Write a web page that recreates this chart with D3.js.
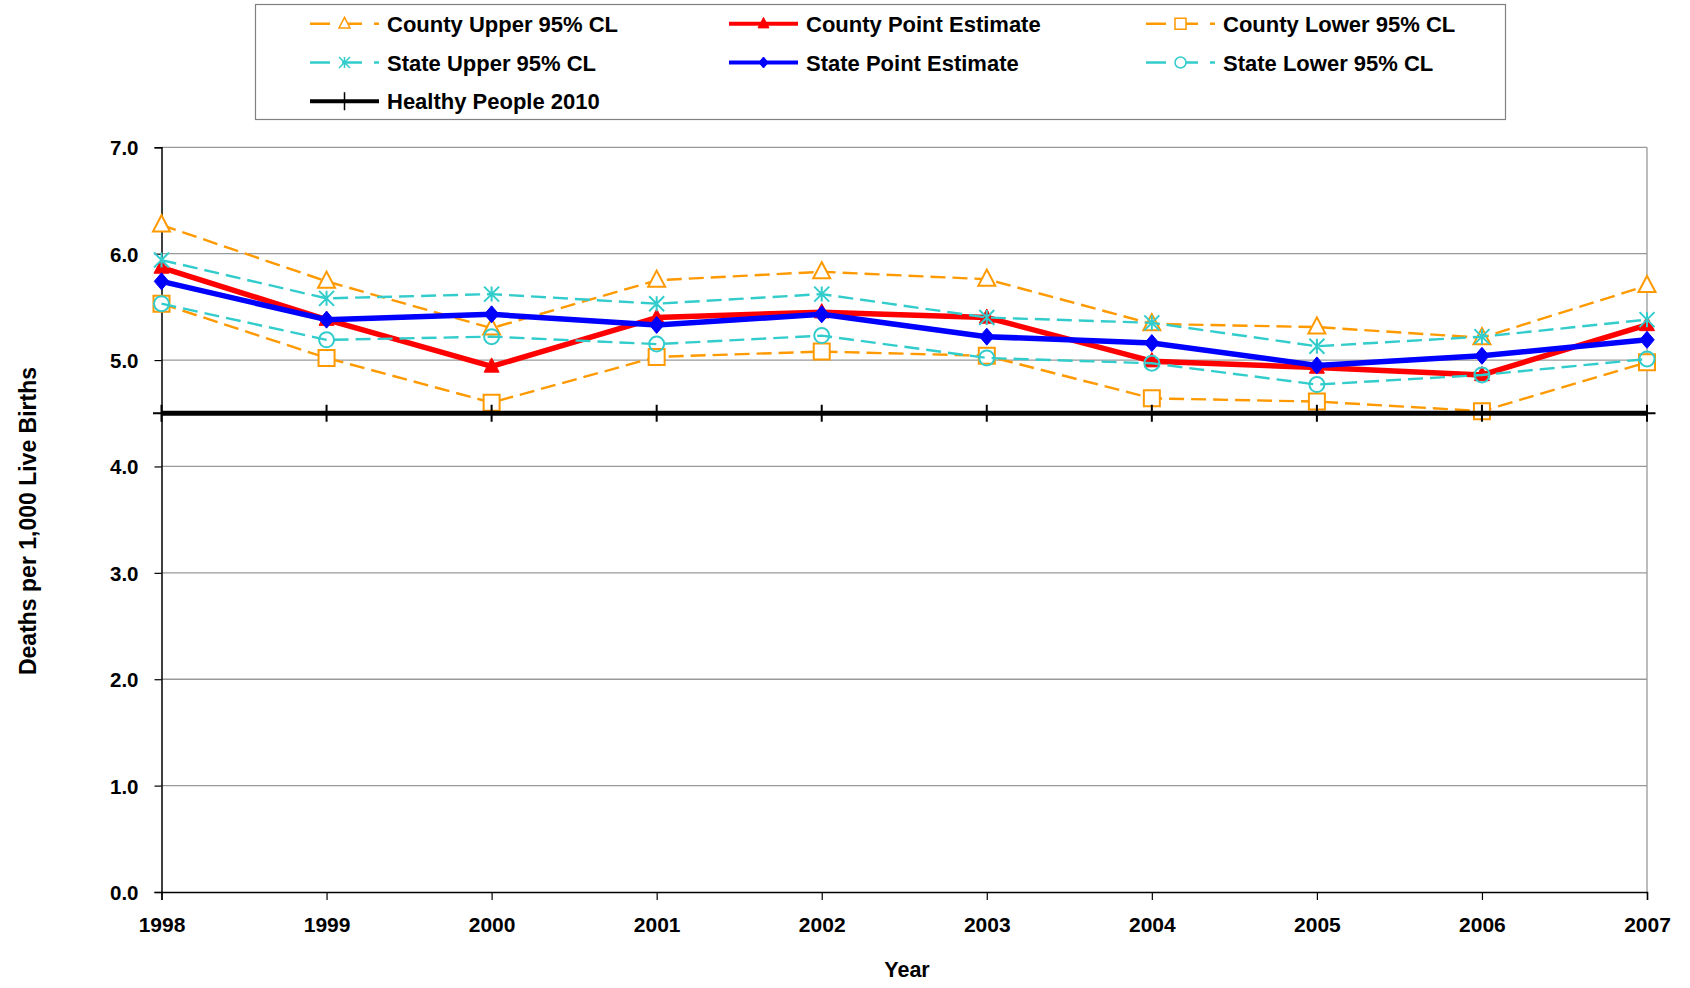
<!DOCTYPE html>
<html><head><meta charset="utf-8">
<script src="https://cdn.jsdelivr.net/npm/d3@7"></script>
<style>
html,body{margin:0;padding:0;background:#fff;}
svg{display:block;}
text{font-family:"Liberation Sans",Arial,sans-serif;font-weight:bold;fill:#000;}
</style></head>
<body>
<svg id="chart" width="1690" height="988"></svg>
<script>
const years = [1998,1999,2000,2001,2002,2003,2004,2005,2006,2007];
const countyUpper = [6.27,5.74,5.30,5.75,5.83,5.76,5.34,5.31,5.21,5.70];
const countyPoint = [5.87,5.38,4.94,5.40,5.45,5.40,4.99,4.93,4.86,5.33];
const countyLower = [5.53,5.02,4.60,5.03,5.08,5.04,4.64,4.61,4.52,4.98];
const stateUpper  = [5.94,5.58,5.62,5.53,5.62,5.40,5.35,5.13,5.22,5.38];
const statePoint  = [5.74,5.38,5.43,5.33,5.43,5.22,5.16,4.95,5.04,5.19];
const stateLower  = [5.53,5.19,5.22,5.15,5.23,5.02,4.97,4.77,4.86,5.01];
const healthyPeople = [4.5,4.5,4.5,4.5,4.5,4.5,4.5,4.5,4.5,4.5];
const yTicks = [0,1,2,3,4,5,6,7];
const yTickLabels = ["0.0","1.0","2.0","3.0","4.0","5.0","6.0","7.0"];
const seriesNames = ["County Upper 95% CL","County Point Estimate","County Lower 95% CL",
  "State Upper 95% CL","State Point Estimate","State Lower 95% CL","Healthy People 2010"];

const orange="#FF9900", red="#FF0000", blue="#0000FF", cyan="#33CCCC", black="#000000";

const series = [
  {name:seriesNames[0], values:countyUpper, color:orange, width:2.4, dash:"15,7", marker:"triangle", fill:"#fff"},
  {name:seriesNames[1], values:countyPoint, color:red, width:5.5, dash:null, marker:"triangle", fill:red},
  {name:seriesNames[2], values:countyLower, color:orange, width:2.4, dash:"15,7", marker:"square", fill:"#fff"},
  {name:seriesNames[3], values:stateUpper, color:cyan, width:2.4, dash:"15,7", marker:"star", fill:"none"},
  {name:seriesNames[4], values:statePoint, color:blue, width:5.5, dash:null, marker:"diamond", fill:blue},
  {name:seriesNames[5], values:stateLower, color:cyan, width:2.4, dash:"15,7", marker:"circle", fill:"none"},
  {name:seriesNames[6], values:healthyPeople, color:black, width:5, dash:null, marker:"plus", fill:"none"}
];

const svg = d3.select("#chart");
const L=161.5, R=1647, T=147.3, B=892;
const x = d3.scaleLinear().domain([1998,2007]).range([L,R]);
const y = d3.scaleLinear().domain([0,7]).range([B,T]);

// gridlines
svg.append("g").selectAll("line").data(yTicks.filter(d=>d>0)).join("line")
  .attr("x1",L).attr("x2",R).attr("y1",d=>y(d)).attr("y2",d=>y(d))
  .attr("stroke","#999").attr("stroke-width",1.3);
// right frame
svg.append("line").attr("x1",R).attr("x2",R).attr("y1",T).attr("y2",B).attr("stroke","#999").attr("stroke-width",1.3);

// y axis
const yAxis = d3.axisLeft(y).tickValues(yTicks).tickFormat((d,i)=>yTickLabels[i]).tickSize(7).tickPadding(16);
const gy = svg.append("g").attr("transform",`translate(${L},0)`).call(yAxis);
gy.select(".domain").attr("stroke","#000").attr("stroke-width",1.5);
gy.selectAll(".tick line").attr("stroke","#000").attr("stroke-width",1.2);
gy.selectAll(".tick text").style("font-family","'Liberation Sans',Arial,sans-serif").style("font-weight","bold").style("font-size","20.5px").attr("dy","0.36em");

// x axis
const xAxis = d3.axisBottom(x).tickValues(years).tickFormat(d3.format("d")).tickSize(8).tickPadding(17);
const gx = svg.append("g").attr("transform",`translate(0,${B})`).call(xAxis);
gx.select(".domain").attr("stroke","#000").attr("stroke-width",1.5);
gx.selectAll(".tick line").attr("stroke","#000").attr("stroke-width",1.2);
gx.selectAll(".tick text").style("font-size","21px").style("font-family","'Liberation Sans',Arial,sans-serif").style("font-weight","bold");

// axis titles
svg.append("text").attr("x",907).attr("y",977).attr("text-anchor","middle").style("font-size","21.5px").text("Year");
svg.append("text").attr("transform","translate(36,521) rotate(-90)").attr("text-anchor","middle").style("font-size","23px").text("Deaths per 1,000 Live Births");

function markerPath(type, s){
  if(type==="triangle"){const h=s*0.95, w=s; return `M0,${-h*0.6}L${w/2},${h*0.4}L${-w/2},${h*0.4}Z`;}
  if(type==="square"){const h=s/2; return `M${-h},${-h}H${h}V${h}H${-h}Z`;}
  if(type==="diamond"){const h=s/2; return `M0,${-h}L${h*0.85},0L0,${h}L${-h*0.85},0Z`;}
  if(type==="circle"){const r=s/2; return `M${r},0A${r},${r} 0 1,1 ${-r},0A${r},${r} 0 1,1 ${r},0Z`;}
  if(type==="star"){const h=s/2; return `M${-h},${-h}L${h},${h}M${h},${-h}L${-h},${h}M0,${-h}L0,${h}`;}
  if(type==="plus"){const h=s/2; return `M${-h},0H${h}M0,${-h}V${h}`;}
  return "";
}
const markerSize = {triangle:17,square:16,diamond:17,circle:15,star:15,plus:17};

const line = d3.line().x((d,i)=>x(years[i])).y(d=>y(d));
const plot = svg.append("g");
series.forEach(s=>{
  const g = plot.append("g");
  g.append("path").datum(s.values).attr("d",line).attr("fill","none")
    .attr("stroke",s.color).attr("stroke-width",s.width)
    .attr("stroke-dasharray",s.dash).attr("stroke-linejoin","round");
  const mw = s.marker==="plus"?2:(s.fill===s.color?1:2);
  g.selectAll("path.m").data(s.values).join("path").attr("class","m")
    .attr("transform",(d,i)=>`translate(${x(years[i])},${y(d)})`)
    .attr("d",markerPath(s.marker, s.marker==="triangle"&&s.fill===s.color?15:markerSize[s.marker]))
    .attr("fill",s.fill).attr("stroke",s.color).attr("stroke-width",mw);
});

// legend
const leg = svg.append("g");
leg.append("rect").attr("x",255.5).attr("y",4.5).attr("width",1250).attr("height",115)
  .attr("fill","#fff").attr("stroke","#808080").attr("stroke-width",1.2);
const colX = [310,729,1146];
const rowY = [23.7,62.5,101.3];
series.forEach((s,i)=>{
  const cx = colX[i%3], cy = rowY[Math.floor(i/3)];
  const g = leg.append("g");
  g.append("line").attr("x1",cx).attr("x2",cx+69).attr("y1",cy).attr("y2",cy)
    .attr("stroke",s.color).attr("stroke-width",s.width>=5?4:2.4).attr("stroke-dasharray",s.dash?"20,12":null);
  g.append("path").attr("transform",`translate(${cx+34.5},${cy})`)
    .attr("d",markerPath(s.marker, s.marker==="plus"?18:11))
    .attr("fill",s.fill==="none"?"#fff":s.fill).attr("stroke",s.color).attr("stroke-width",s.fill===s.color?1:1.5);
  g.append("text").attr("x",cx+77).attr("y",cy+8).style("font-size","22px").text(s.name);
});
</script>
</body></html>
